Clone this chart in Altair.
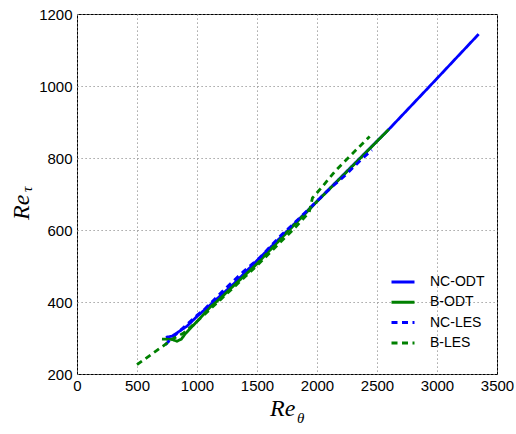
import altair as alt
import pandas as pd

series_names = ["NC-ODT", "B-ODT", "NC-LES", "B-LES"]
series_colors = ["#0000ff", "#008000", "#0000ff", "#008000"]

nc_odt_x = [740, 792, 917, 1000, 1111, 1194, 1305, 1500, 1760, 2000, 2300, 2597, 2941, 3347]
nc_odt_y = [302, 305, 333, 360, 392, 417, 450, 515, 600, 680, 780, 879, 1000, 1144]

b_odt_x = [708, 792, 833, 870, 903, 1000, 1111, 1194, 1305, 1500, 1760, 2000, 2300, 2597]
b_odt_y = [297, 296, 291, 297, 312, 346, 386, 410, 445, 506, 597, 679, 779, 879]

nc_les_x = [736, 792, 900, 1000, 1069, 1222, 1389, 1528, 1694, 1819, 2000, 2111, 2236, 2375, 2458]
nc_les_y = [281, 300, 333, 363, 382, 433, 485, 525, 583, 622, 680, 716, 752, 798, 822]

b_les_x = [500, 736, 800, 889, 1000, 1200, 1400, 1500, 1700, 1805, 1935, 1962, 2028, 2153, 2292, 2439]
b_les_y = [226, 282, 298, 314, 346, 408, 470, 501, 568, 602, 649, 689, 714, 764, 811, 860]

x_ticks = [0, 500, 1000, 1500, 2000, 2500, 3000, 3500]
y_ticks = [200, 400, 600, 800, 1000, 1200]

rows = []
for name, xs, ys in [
    ("NC-ODT", nc_odt_x, nc_odt_y),
    ("B-ODT", b_odt_x, b_odt_y),
    ("NC-LES", nc_les_x, nc_les_y),
    ("B-LES", b_les_x, b_les_y),
]:
    for i, (a, b) in enumerate(zip(xs, ys)):
        rows.append({"Re_theta": a, "Re_tau": b, "series": name, "idx": i})
df = pd.DataFrame(rows)

x_scale = alt.Scale(domain=[0, 3500], nice=False, zero=False)
y_scale = alt.Scale(domain=[200, 1200], nice=False, zero=False)

lines = alt.Chart(df).mark_line(strokeWidth=2.8).encode(
    x=alt.X("Re_theta:Q", scale=x_scale,
            axis=alt.Axis(values=x_ticks, title=None, labelFlush=False, format="d",
                          labelOverlap=False, labelPadding=4)),
    y=alt.Y("Re_tau:Q", scale=y_scale,
            axis=alt.Axis(values=y_ticks, title=None, labelFlush=False, format="d",
                          labelOverlap=False, labelPadding=5)),
    color=alt.Color("series:N", sort=series_names, title=None,
                    scale=alt.Scale(domain=series_names, range=series_colors)),
    strokeDash=alt.StrokeDash("series:N", sort=series_names, title=None,
                              scale=alt.Scale(domain=series_names,
                                              range=[[1, 0], [1, 0], [6, 4.5], [6, 4.5]])),
    order=alt.Order("idx:Q"),
)

one = pd.DataFrame({"k": [0]})
serif = "Liberation Serif"

x_title = alt.Chart(one).mark_text(
    text="Re", font=serif, fontStyle="italic", fontSize=24,
    align="left", baseline="alphabetic", color="black"
).encode(x=alt.value(193), y=alt.value(402))
x_sub = alt.Chart(one).mark_text(
    text="θ", font=serif, fontStyle="italic", fontSize=15,
    align="left", baseline="alphabetic", color="black"
).encode(x=alt.value(220), y=alt.value(409))

y_title = alt.Chart(one).mark_text(
    text="Re", font=serif, fontStyle="italic", fontSize=24, angle=270,
    align="left", baseline="alphabetic", color="black"
).encode(x=alt.value(-48), y=alt.value(206))
y_sub = alt.Chart(one).mark_text(
    text="τ", font=serif, fontStyle="italic", fontSize=15, angle=270,
    align="left", baseline="alphabetic", color="black"
).encode(x=alt.value(-45), y=alt.value(178))

chart = alt.layer(lines, x_title, x_sub, y_title, y_sub).properties(
    width=420, height=360,
    autosize=alt.AutoSizeParams(type="none"),
    padding={"left": 77, "top": 14, "right": 19, "bottom": 60},
    background="white",
).configure_view(
    stroke="black", strokeWidth=1
).configure_axis(
    labelFont="Liberation Sans", labelFontSize=15, labelColor="black",
    ticks=False, domain=False,
    grid=True, gridColor="#8c8c8c", gridDash=[1.2, 2.8], gridWidth=1,
).configure_legend(
    orient="none", legendX=313, legendY=255, padding=0,
    symbolType="stroke", symbolSize=529, symbolStrokeWidth=3,
    labelFont="Liberation Sans", labelFontSize=14, labelColor="black",
    labelOffset=14, rowPadding=0.3,
)

chart.save("out.html", embed_options={"renderer": "svg", "actions": False})
